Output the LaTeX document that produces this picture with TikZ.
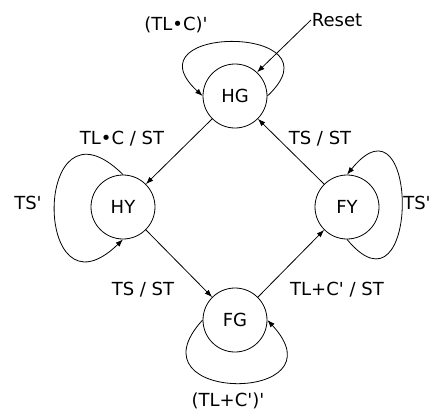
\documentclass[tikz,border=0pt]{standalone}
\usepackage{fontspec}
\setmainfont{DejaVu Sans}
\usetikzlibrary{arrows.meta,positioning}

\newcommand{\pr}{\textquotesingle}

\begin{document}
\begin{tikzpicture}
[x=1pt, y=1pt, line width=0.8pt, >={Latex[length=7.5pt,width=5.5pt]},
font=\fontsize{18}{21}\selectfont,
state/.style={circle,draw=black,minimum size=64pt,inner sep=0pt},
lbl/.style={inner sep=0.5pt}
]

\useasboundingbox (0,0) rectangle (432,-416);

% States
\foreach \n/\x/\y in {HG/235/-96, HY/123/-207, FY/347/-207, FG/235/-320} {
  \node[state] (\n) at (\x,\y) {\n};
}

% Transitions
\foreach \a/\b/\sa/\ea in {HG/HY/225/45, HY/FG/-45/135, FG/FY/45/225, FY/HG/135/-45} {
  \draw[->] (\a.\sa) -- (\b.\ea);
}

% Self loops
\draw[->] (HG.east) .. controls +(77,72) and +(-78,72) .. (HG.west);
\draw[->] (HY.north) .. controls +(-91,90) and +(-91,-88) .. (HY.south);
\draw[->] (FY.south) .. controls +(73,-88) and +(73,90) .. (FY.north);
\draw[->] (FG.west) .. controls +(-77,-84) and +(78,-84) .. (FG.east);

% Reset
\node[lbl] (reset) at (337,-20) {Reset};
\draw[->] (reset.west) -- (HG.47);

% Labels
\node[lbl] (lhgloop) at (176,-25) {(TL•C)\pr};
\node[lbl] (lhghy) at (122,-139) {TL•C / ST};
\node[lbl] (lfyhg) at (320,-139) {TS / ST};
\node[lbl] (lhyloop) at (28,-203) {TS\pr};
\node[lbl] (lfyloop) at (417,-203) {TS\pr};
\node[lbl] (lhyfg) at (143,-290) {TS / ST};
\node[lbl] (lfgfy) at (337,-290) {TL+C\pr{} / ST};
\node[lbl] (lfgloop) at (228,-401) {(TL+C\pr)\pr};
\end{tikzpicture}
\end{document}
